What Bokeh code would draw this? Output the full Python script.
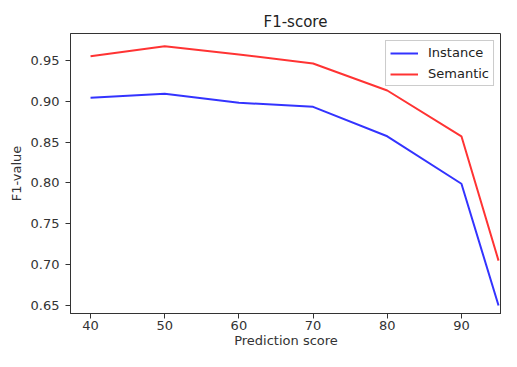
from bokeh.plotting import figure
from bokeh.models import Range1d, FixedTicker, Legend, LegendItem, CustomJSTickFormatter
from bokeh.embed import file_html
from bokeh.resources import INLINE

scores = [40, 50, 60, 70, 80, 90, 95]
instance = [0.904, 0.909, 0.898, 0.893, 0.857, 0.799, 0.650]
semantic = [0.955, 0.967, 0.957, 0.946, 0.913, 0.857, 0.705]
x_ticks = [40, 50, 60, 70, 80, 90]
y_ticks = [0.65, 0.70, 0.75, 0.80, 0.85, 0.90, 0.95]

FONT = "DejaVu Sans"
X0, X1 = 37.30, 95.40
Y0, Y1 = 0.6403, 0.9827

p = figure(width=501, height=351, output_backend="svg", toolbar_location=None,
           x_range=Range1d(X0, X1), y_range=Range1d(Y0, Y1), title="F1-score",
           min_border_left=70, min_border_right=0,
           min_border_top=33, min_border_bottom=38)

p.title.text_font = FONT
p.title.text_font_size = "15px"
p.title.text_font_style = "normal"
p.title.align = "left"
p.title.offset = 193
p.title.text_color = "#222222"
p.title.standoff = 5

p.grid.visible = False
p.outline_line_color = "#333333"
p.outline_line_width = 1

for ax in (p.xaxis[0], p.yaxis[0]):
    ax.major_label_text_font = FONT
    ax.major_label_text_font_size = "13px"
    ax.major_label_text_color = "#333333"
    ax.axis_label_text_font = FONT
    ax.axis_label_text_font_size = "13px"
    ax.axis_label_text_font_style = "normal"
    ax.axis_label_text_color = "#333333"
    ax.minor_tick_line_color = None
    ax.major_tick_out = 5
    ax.major_tick_in = 0
    ax.axis_line_color = "#333333"
    ax.major_tick_line_color = "#333333"

p.xaxis.ticker = FixedTicker(ticks=x_ticks)
p.yaxis.ticker = FixedTicker(ticks=y_ticks)
p.yaxis.formatter = CustomJSTickFormatter(code="return tick.toFixed(2);")
p.xaxis.axis_label = "Prediction score"
p.yaxis.axis_label = "F1-value"
p.xaxis.axis_label_standoff = 0
p.yaxis.axis_label_standoff = 4
p.xaxis.major_label_standoff = 2
p.yaxis.major_label_standoff = 6

l1 = p.line(scores, instance, line_color="blue", line_width=2, line_alpha=0.8)
l2 = p.line(scores, semantic, line_color="red", line_width=2, line_alpha=0.8)

legend = Legend(items=[LegendItem(label="Instance", renderers=[l1]),
                       LegendItem(label="Semantic", renderers=[l2])],
                location="top_right")
legend.label_text_font = FONT
legend.label_text_font_size = "13px"
legend.label_text_color = "#222222"
legend.border_line_color = "#cccccc"
legend.border_line_alpha = 1
legend.background_fill_alpha = 0.8
legend.glyph_width = 28
legend.glyph_height = 14
legend.label_height = 14
legend.spacing = 6
legend.padding = 4
legend.margin = 7
legend.label_standoff = 10
p.add_layout(legend)

open("out.html", "w").write(file_html(p, INLINE))
